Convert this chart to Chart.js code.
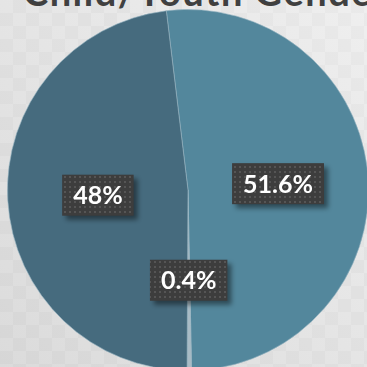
<!DOCTYPE html>
<html lang="en">
    <head>
        <meta charset="UTF-8">
        <title>Child/Youth Gender</title>
        <script src="https://cdn.jsdelivr.net/npm/chart.js"></script>
        <style>
            html, body { margin: 0; padding: 0; }
            body {
                width: 367px; height: 367px; overflow: hidden; position: relative;
                background: linear-gradient(225deg, #efefef 0%, #e4e4e4 50%, #dadada 100%);
            }
            .mosaic {
                position: absolute; inset: 0;
                background-image: repeating-conic-gradient(rgba(0,0,0,0.018) 0 25%, rgba(255,255,255,0.025) 0 50%);
                background-size: 26px 26px;
            }
            .title {
                position: absolute; left: 23px; top: -32px; white-space: nowrap;
                font-family: Lato, sans-serif; font-weight: bold; font-size: 38px;
                letter-spacing: 1.5px; color: #404040;
            }
            .chart-box { position: absolute; left: 7px; top: 9px; width: 362px; height: 362px; }
        </style>
    </head>
    <body>
        <div class="mosaic"></div>
        <div class="title">Child/Youth Gender</div>
        <div class="chart-box"><canvas id="genderChart"></canvas></div>

        <script>
            const categories = ['Male', 'Other', 'Female'];
            const shares = [51.6, 0.4, 48];
            const labelsText = ['51.6%', '0.4%', '48%'];
            const colors = ['#53879c', '#a9bbc5', '#466b7e'];

            // dotted fill for the label boxes
            const dots = document.createElement('canvas');
            dots.width = 5; dots.height = 5;
            const dctx = dots.getContext('2d');
            dctx.fillStyle = '#3d3d3d';
            dctx.fillRect(0, 0, 5, 5);
            dctx.fillStyle = '#555555';
            dctx.fillRect(2, 2, 2, 2);

            const boxLabels = {
                id: 'boxLabels',
                afterDatasetsDraw(chart) {
                    const c = chart.ctx;
                    const meta = chart.getDatasetMeta(0);
                    c.save();
                    c.font = 'bold 25px Lato, sans-serif';
                    c.textAlign = 'center';
                    c.textBaseline = 'middle';
                    meta.data.forEach((arc, i) => {
                        const p = arc.getCenterPoint();
                        const txt = labelsText[i];
                        const w = c.measureText(txt).width + 22;
                        const h = 41;
                        c.save();
                        c.shadowColor = 'rgba(0,0,0,0.45)';
                        c.shadowBlur = 5;
                        c.shadowOffsetX = 4;
                        c.shadowOffsetY = 4;
                        c.fillStyle = c.createPattern(dots, 'repeat');
                        c.fillRect(p.x - w / 2, p.y - h / 2, w, h);
                        c.restore();
                        c.fillStyle = '#ffffff';
                        c.fillText(txt, p.x, p.y + 1);
                    });
                    c.restore();
                }
            };

            new Chart(document.getElementById('genderChart'), {
                type: 'pie',
                data: {
                    labels: categories,
                    datasets: [{
                        data: shares,
                        backgroundColor: colors,
                        borderColor: 'rgba(150,180,194,0.6)',
                        borderWidth: 1,
                        hoverOffset: 0,
                        offset: 0
                    }]
                },
                options: {
                    responsive: true,
                    maintainAspectRatio: false,
                    animation: false,
                    rotation: -6.9,
                    layout: { padding: 0 },
                    plugins: {
                        legend: { display: false },
                        tooltip: { enabled: false },
                        title: { display: false }
                    }
                },
                plugins: [boxLabels]
            });
        </script>
    </body>
</html>
